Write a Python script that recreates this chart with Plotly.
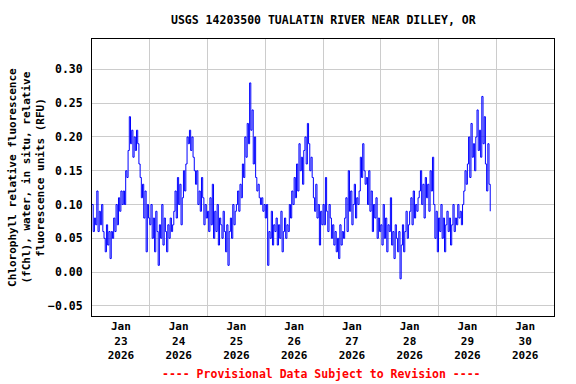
import pandas as pd
import plotly.graph_objects as go

# Chlorophyll fluorescence (RFU), 30-minute readings starting 2026-01-23 00:00
start_time = "2026-01-23 00:00"
step = "30min"

jan23 = [0.10, 0.06, 0.08, 0.07, 0.12, 0.06, 0.09, 0.07, 0.10, 0.06,
         0.05, 0.03, 0.07, 0.04, 0.06, 0.02, 0.06, 0.05,
         0.08, 0.06, 0.10, 0.07, 0.11, 0.09, 0.12, 0.10,
         0.12, 0.10, 0.15, 0.14, 0.18, 0.23,
         0.19, 0.21, 0.17, 0.20, 0.18, 0.21, 0.19, 0.16,
         0.14, 0.11, 0.13, 0.08, 0.12, 0.03, 0.10, 0.08]
jan24 = [0.07, 0.10, 0.05, 0.08, 0.03, 0.09, 0.06, 0.01, 0.07, 0.05,
         0.10, 0.04, 0.08, 0.06, 0.03, 0.07, 0.05, 0.08, 0.06, 0.07,
         0.09, 0.12, 0.08, 0.14, 0.10, 0.13, 0.07, 0.11, 0.15, 0.12,
         0.16, 0.20, 0.19, 0.21, 0.18, 0.20, 0.17, 0.15,
         0.13, 0.15, 0.10, 0.12, 0.09, 0.14, 0.11, 0.07, 0.10, 0.08]
jan25 = [0.09, 0.06, 0.11, 0.07, 0.13, 0.05, 0.09, 0.06, 0.10, 0.04,
         0.08, 0.07, 0.05, 0.09, 0.06, 0.03, 0.07, 0.01, 0.06, 0.08,
         0.05, 0.10, 0.07, 0.09,
         0.10, 0.12, 0.09, 0.13, 0.11, 0.16, 0.14, 0.20,
         0.17, 0.22, 0.19, 0.28, 0.21, 0.24, 0.16, 0.20,
         0.14, 0.12, 0.13, 0.11, 0.10, 0.11, 0.09, 0.10]
jan26 = [0.08, 0.10, 0.01, 0.06, 0.05, 0.09, 0.04, 0.07, 0.06, 0.08,
         0.04, 0.07, 0.05, 0.09, 0.03, 0.06, 0.08, 0.05, 0.07, 0.06,
         0.10, 0.08, 0.12, 0.10, 0.14, 0.11, 0.16, 0.12, 0.19, 0.15,
         0.17, 0.13,
         0.18, 0.20, 0.16, 0.22, 0.19, 0.15, 0.17, 0.14,
         0.11, 0.09, 0.13, 0.08, 0.10, 0.04, 0.09, 0.07]
jan27 = [0.10, 0.07, 0.14, 0.09, 0.06, 0.10, 0.08, 0.05,
         0.07, 0.04, 0.06, 0.03, 0.05, 0.02, 0.07, 0.04, 0.06, 0.05,
         0.08, 0.11, 0.06, 0.15, 0.09, 0.12, 0.07, 0.10, 0.13, 0.08,
         0.11, 0.10,
         0.12, 0.17, 0.14, 0.19, 0.15, 0.13,
         0.14, 0.10, 0.15, 0.09, 0.12, 0.06, 0.10, 0.08, 0.11, 0.05,
         0.08, 0.06]
jan28 = [0.07, 0.04, 0.10, 0.05, 0.08, 0.03, 0.07, 0.06, 0.11, 0.04,
         0.06, 0.02, 0.07, 0.05, 0.03, 0.06, -0.01, 0.04, 0.07, 0.03,
         0.06, 0.09, 0.05, 0.07,
         0.09, 0.11, 0.07, 0.12, 0.08, 0.10, 0.09, 0.11,
         0.12, 0.15, 0.10, 0.13, 0.08, 0.14, 0.11, 0.13, 0.09, 0.15,
         0.12, 0.17,
         0.10, 0.05, 0.09, 0.03]
jan29 = [0.08, 0.06, 0.10, 0.05, 0.08, 0.03, 0.07, 0.09, 0.06, 0.08,
         0.04, 0.07, 0.10, 0.06, 0.08, 0.07, 0.10, 0.08, 0.09, 0.07,
         0.10,
         0.12, 0.15, 0.13, 0.16,
         0.20, 0.14, 0.22, 0.17, 0.19, 0.15, 0.20, 0.24, 0.18, 0.21,
         0.17, 0.26, 0.19,
         0.23, 0.16, 0.12, 0.19, 0.13, 0.09]

values = jan23 + jan24 + jan25 + jan26 + jan27 + jan28 + jan29
times = pd.date_range(start_time, periods=len(values), freq=step)

title_text = "USGS 14203500 TUALATIN RIVER NEAR DILLEY, OR"
y_title = ("Chlorophyll relative fluorescence<br>(fChl), water, in situ, relative"
           "<br>fluorescence units (RFU)")
caption = "---- Provisional Data Subject to Revision ----"

x_range = ["2026-01-23 00:00", "2026-01-31 00:00"]
y_range = [-0.065, 0.345]

mono = "DejaVu Sans Mono"

fig = go.Figure()
fig.add_trace(go.Scatter(
    x=times, y=values, mode="lines", line_shape="hv",
    line=dict(color="#0000FF", width=1), showlegend=False,
))

fig.update_layout(
    width=576, height=384,
    margin=dict(l=92, r=22, t=39, b=68),
    paper_bgcolor="white", plot_bgcolor="white",
    font=dict(family=mono, size=11.5, color="black", weight="bold"),
    showlegend=False,
)

fig.update_xaxes(
    range=x_range, type="date",
    dtick=86400000, tick0="2026-01-23",
    ticklabelmode="period", tickformat="%b<br>%d<br>%Y",
    tickfont=dict(family=mono, size=11, weight="bold"),
    showgrid=True, gridcolor="#cccccc", gridwidth=1,
    showline=True, linecolor="black", linewidth=1, mirror=True,
    ticks="", zeroline=False,
)
fig.update_yaxes(
    range=y_range, dtick=0.05, tick0=0, tickformat=".2f",
    tickfont=dict(family=mono, size=11.5, weight="bold"),
    showgrid=True, gridcolor="#cccccc", gridwidth=1,
    showline=True, linecolor="black", linewidth=1, mirror=True,
    ticks="", zeroline=False, ticklabelstandoff=6,
)

fig.add_annotation(
    text=title_text, xref="paper", yref="paper", x=0.5, y=1 + (39.3 - 20) / 276.7,
    xanchor="center", yanchor="middle", showarrow=False,
    font=dict(family=mono, size=11.5, weight="bold", color="black"),
)
fig.add_annotation(
    text=y_title, xref="paper", yref="paper", x=(26 - 91.7) / 462.6, y=0.5,
    xanchor="center", yanchor="middle", showarrow=False, textangle=-90,
    font=dict(family=mono, size=11, weight="bold", color="black"),
)
fig.add_annotation(
    text=caption, xref="paper", yref="paper", x=(321 - 91.7) / 462.6,
    y=-(374 - 316) / 276.7,
    xanchor="center", yanchor="middle", showarrow=False,
    font=dict(family=mono, size=11.5, weight="bold", color="#FF0000"),
)

fig.write_html(
    "out.html",
    config={"displayModeBar": False},
    post_script="document.body.style.margin='0';document.body.style.overflow='hidden';",
)
